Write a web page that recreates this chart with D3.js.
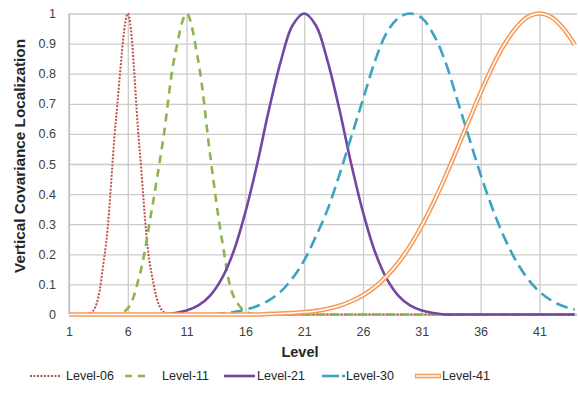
<!DOCTYPE html>
<html>
<head>
<meta charset="utf-8">
<script src="https://cdn.jsdelivr.net/npm/d3@7"></script>
<style>
  body { margin: 0; background: #fff; }
  text { font-family: "Liberation Sans", Arial, sans-serif; }
</style>
</head>
<body>
<div id="grafico"></div>
<script>
// categories (model levels) and tick labels
var levels = [1,2,3,4,5,6,7,8,9,10,11,12,13,14,15,16,17,18,19,20,21,22,
              23,24,25,26,27,28,29,30,31,32,33,34,35,36,37,38,39,40,41,42,43,44];
var xTicks = [1,6,11,16,21,26,31,36,41];
var yTicks = [0,0.1,0.2,0.3,0.4,0.5,0.6,0.7,0.8,0.9,1];
var seriesNames = ["Level-06","Level-11","Level-21","Level-30","Level-41"];

// localization values, one per level
var level06 = [0,0,0.01,0.19,0.65,1,0.55,0.14,0.01,0,0,0,0,0,0,0,0,0,0,0,0,0,
               0,0,0,0,0,0,0,0,0,0,0,0,0,0,0,0,0,0,0,0,0,0];
var level11 = [0,0,0,0,0,0.02,0.13,0.34,0.58,0.86,1,0.84,0.53,0.25,0.06,0.01,0,0,0,0,0,0,
               0,0,0,0,0,0,0,0,0,0,0,0,0,0,0,0,0,0,0,0,0,0];
var level21 = [0,0,0,0,0,0,0,0,0,0.005,0.013,0.03,0.063,0.12,0.21,0.34,0.5,0.68,0.84,0.96,1,0.96,
               0.84,0.68,0.5,0.34,0.21,0.12,0.063,0.03,0.013,0.005,0,0,0,0,0,0,0,0,0,0,0,0];
var level30 = [0,0,0,0,0,0,0,0,0,0,0,0,0,0.004,0.008,0.016,0.028,0.047,0.076,0.12,0.18,0.26,
               0.35,0.465,0.59,0.715,0.84,0.935,0.985,1,0.985,0.93,0.84,0.715,0.59,0.465,0.353,0.257,0.179,0.119,0.076,0.047,0.028,0.016];
var level41 = [0,0,0,0,0,0,0,0,0,0,0,0,0,0,0,0,0,0.002,0.003,0.005,0.008,0.012,
               0.019,0.029,0.044,0.064,0.091,0.127,0.172,0.228,0.295,0.372,0.458,0.55,0.644,0.737,0.823,0.896,0.952,0.988,1,0.988,0.952,0.896];

var allSeries = [level06, level11, level21, level30, level41];

// set the dimensions of the graph
var W = 578, H = 397;
var plotLeft = 69, plotRight = 574.7, plotTop = 13.5, plotBottom = 314.5;

var svg = d3.select("#grafico")
  .append("svg")
  .attr("width", W)
  .attr("height", H);

svg.append("rect").attr("width", W).attr("height", H).attr("fill", "#fff");

var x = d3.scaleLinear().domain([1, 44]).range([plotLeft, plotRight]);
var y = d3.scaleLinear().domain([0, 1]).range([plotBottom, plotTop]);

// GRID
svg.append("g")
  .attr("transform", "translate(0," + plotBottom + ")")
  .call(d3.axisBottom(x).tickValues(xTicks).tickSize(-(plotBottom - plotTop)).tickFormat(""))
  .call(function(g) { g.select(".domain").remove(); })
  .selectAll("line").attr("stroke", "#cbcbcb").attr("stroke-width", 1.3);

svg.append("g")
  .attr("transform", "translate(" + plotLeft + ",0)")
  .call(d3.axisLeft(y).tickValues(yTicks).tickSize(-(W - 1 - plotLeft)).tickFormat(""))
  .call(function(g) { g.select(".domain").remove(); })
  .selectAll("line").attr("stroke", "#cbcbcb").attr("stroke-width", 1.3);

// x tick labels
svg.append("g")
  .attr("transform", "translate(0," + plotBottom + ")")
  .call(d3.axisBottom(x).tickValues(xTicks).tickSize(0).tickPadding(13).tickFormat(d3.format("d")))
  .call(function(g) { g.select(".domain").remove(); })
  .selectAll("text")
  .attr("font-size", 12.5)
  .attr("fill", "#404040")
  .style("font-family", "'Liberation Sans', Arial, sans-serif");

// y tick labels
svg.append("g")
  .attr("transform", "translate(" + plotLeft + ",0)")
  .call(d3.axisLeft(y).tickValues(yTicks).tickSize(0).tickPadding(13).tickFormat(function(d) { return String(+d.toFixed(1)); }))
  .call(function(g) { g.select(".domain").remove(); })
  .selectAll("text")
  .attr("font-size", 12.5)
  .attr("fill", "#404040")
  .style("font-family", "'Liberation Sans', Arial, sans-serif");

// axis lines
svg.append("line").attr("x1", plotLeft).attr("x2", plotLeft).attr("y1", plotTop).attr("y2", plotBottom)
  .attr("stroke", "#bdbdbd").attr("stroke-width", 1.3);
svg.append("line").attr("x1", plotLeft).attr("x2", W - 1).attr("y1", plotBottom).attr("y2", plotBottom)
  .attr("stroke", "#bdbdbd").attr("stroke-width", 1.3);

// TITULOS
svg.append("text")
  .attr("x", 300)
  .attr("y", 357)
  .style("text-anchor", "middle")
  .attr("font-weight", "bold")
  .attr("font-size", 14.5)
  .attr("fill", "#262626")
  .text("Level");

svg.append("text")
  .attr("transform", "translate(25,156) rotate(-90)")
  .style("text-anchor", "middle")
  .attr("font-weight", "bold")
  .attr("font-size", 14.5)
  .attr("fill", "#262626")
  .attr("textLength", 234)
  .attr("lengthAdjust", "spacingAndGlyphs")
  .text("Vertical Covariance Localization");

// line styles
var styles = [
  { color: "#C0504D", width: 2, dash: "2,1.5" },
  { color: "#8DB44F", width: 2.6, dash: "8,6" },
  { color: "#7346A1", width: 2.6, dash: null },
  { color: "#3CA3BF", width: 2.6, dash: "12,6" },
  { color: "#F59A57", width: 4.6, dash: null, inner: "#fff" }
];

var line = d3.line()
  .x(function(d, i) { return x(levels[i]); })
  .y(function(d) { return y(d); })
  .curve(d3.curveCatmullRom.alpha(0.5));

// Add the lines
allSeries.forEach(function(vals, k) {
  var st = styles[k];
  svg.append("path")
    .datum(vals)
    .attr("fill", "none")
    .attr("stroke", st.color)
    .attr("stroke-width", st.width)
    .attr("stroke-dasharray", st.dash)
    .attr("d", line);
  if (st.inner) {
    svg.append("path")
      .datum(vals)
      .attr("fill", "none")
      .attr("stroke", st.inner)
      .attr("stroke-width", 1.5)
      .attr("d", line);
  }
});

// LEGEND
var legendPos = [
  { x1: 30, x2: 60, tx: 66 },
  { x1: 125, x2: 145, tx: 162 },
  { x1: 224, x2: 255, tx: 257 },
  { x1: 322, x2: 345, tx: 346 },
  { x1: 415, x2: 441, tx: 442 }
];
var legendY = 376;

seriesNames.forEach(function(name, k) {
  var st = styles[k], p = legendPos[k];
  var dash = st.dash;
  if (k === 1) dash = "7,6";
  if (k === 3) dash = "17,3";
  svg.append("line")
    .attr("x1", p.x1).attr("x2", p.x2)
    .attr("y1", legendY).attr("y2", legendY)
    .attr("stroke", st.color)
    .attr("stroke-width", st.width)
    .attr("stroke-dasharray", dash);
  if (st.inner) {
    svg.append("line")
      .attr("x1", p.x1 + 1).attr("x2", p.x2 - 1)
      .attr("y1", legendY).attr("y2", legendY)
      .attr("stroke", st.inner)
      .attr("stroke-width", 1.5);
  }
  svg.append("text")
    .attr("x", p.tx)
    .attr("y", legendY)
    .attr("dy", "0.35em")
    .attr("font-size", 12.5)
    .attr("fill", "#262626")
    .text(name);
});
</script>
</body>
</html>
